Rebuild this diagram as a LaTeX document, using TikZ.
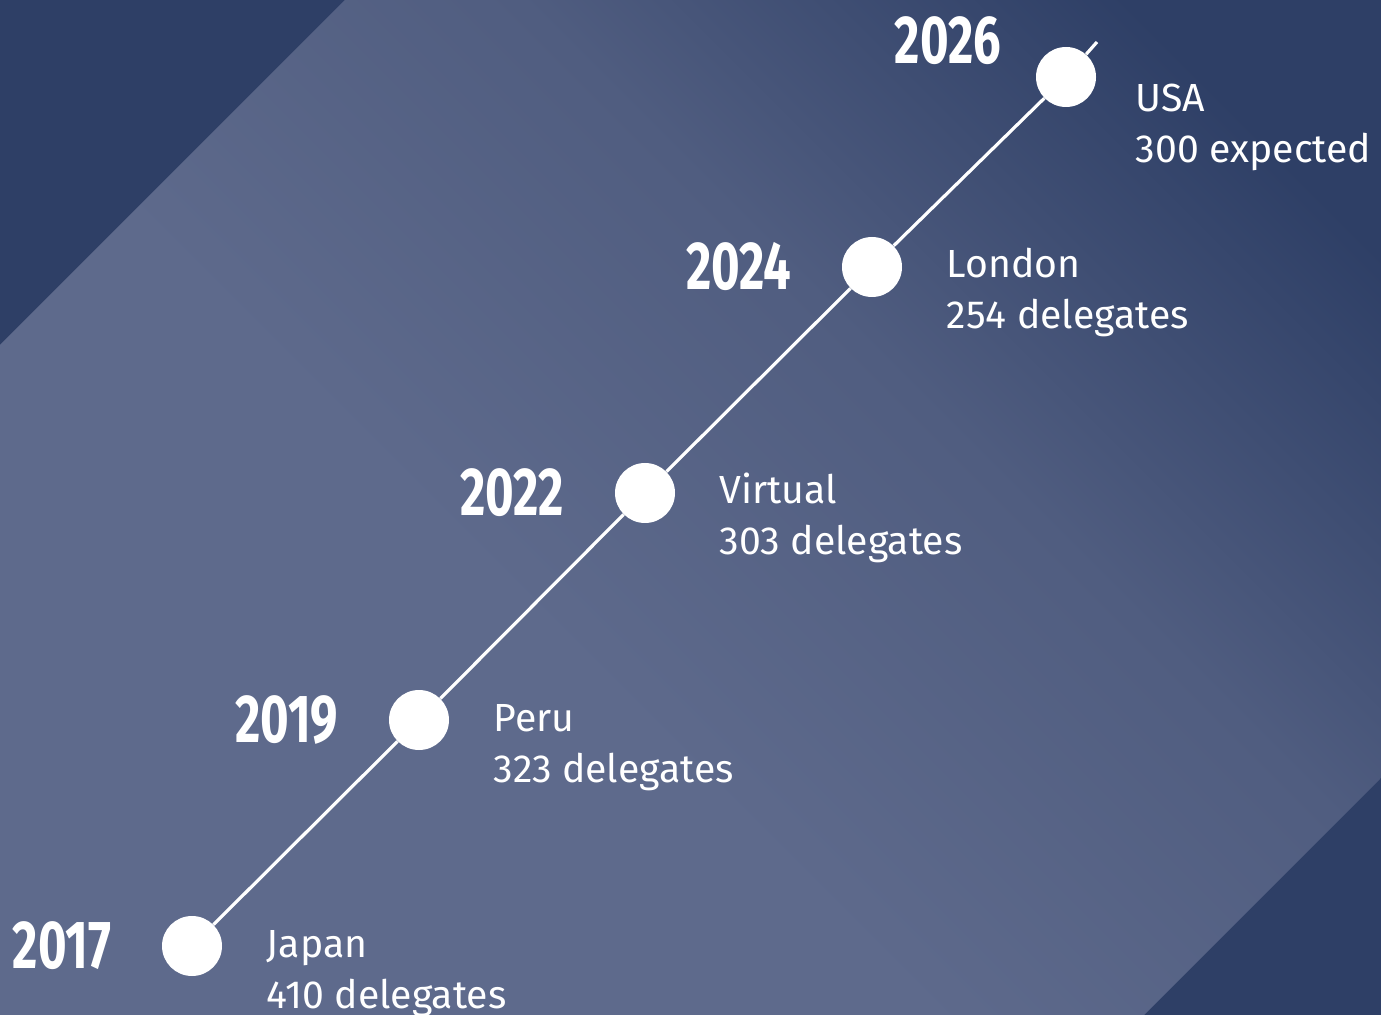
\documentclass[tikz,border=0pt]{standalone}
\usepackage{fontspec}
\usepackage{graphicx}
\setmainfont{Fira Sans}
\usetikzlibrary{positioning}

\definecolor{navy}{HTML}{2E3F66}
\definecolor{bandlight}{HTML}{5E6A8C}
\definecolor{bandmid}{HTML}{505D80}
\pgfdeclarehorizontalshading{bandshade}{100bp}{color(0bp)=(bandlight); color(42bp)=(bandlight); color(60bp)=(bandmid); color(78bp)=(navy); color(100bp)=(navy)}

\newcommand{\yearfont}{\fontsize{34}{34}\selectfont\bfseries}
\newcommand{\infofont}{\fontsize{19.6}{25.5}\selectfont}
\newcommand{\yr}[1]{\scalebox{0.72}[1]{#1}}

\begin{document}
\begin{tikzpicture}[x=0.5pt, y=-0.5pt,
	dot/.style = {circle, fill=white, inner sep=0pt, minimum size=30pt},
	year/.style = {inner sep=0pt, text=white, font=\yearfont},
	info/.style = {inner sep=0pt, text=white, align=left, font=\infofont}
	]
	% background and diagonal band
	\fill[navy] (0,0) rectangle (1381,1015);
	\shade[shading=bandshade, shading angle=45]
	(0,345) -- (345,0) -- (1381,0) -- (1381,778) -- (1144,1015) -- (0,1015) -- cycle;
	\useasboundingbox (0,0) rectangle (1381,1015);
	
	% stops
	\node (d17) [dot] at (192,946) {};
	\node (d19) [dot] at (419,720) {};
	\node (d22) [dot] at (645,493) {};
	\node (d24) [dot] at (872,267) {};
	\node (d26) [dot] at (1066,77)  {};
	\coordinate (tip) at (1097,42);
	
	\draw[white, line width=1.6pt] (d17) -- (d19) -- (d22) -- (d24) -- (d26) -- (tip);
	
	% years
	\node (y17) [year, left=25pt of d17] {\yr{2017}};
	\node (y19) [year, left=25pt of d19] {\yr{2019}};
	\node (y22) [year, left=25pt of d22] {\yr{2022}};
	\node (y24) [year, left=25pt of d24] {\yr{2024}};
	\node (y26) [year, left=17pt of d26, yshift=18pt] {\yr{2026}};
	
	% places
	\node (t17) [info, right=22pt of d17, anchor=base west, yshift=-31pt] {Japan\\410 delegates};
	\node (t19) [info, right=22pt of d19, anchor=base west, yshift=-31pt] {Peru\\323 delegates};
	\node (t22) [info, right=22pt of d22, anchor=base west, yshift=-31pt] {Virtual\\303 delegates};
	\node (t24) [info, right=22pt of d24, anchor=base west, yshift=-31pt] {London\\254 delegates};
	\node (t26) [info, right=19.5pt of d26, anchor=base west, yshift=-43pt] {USA\\300 expected};
\end{tikzpicture}
\end{document}
